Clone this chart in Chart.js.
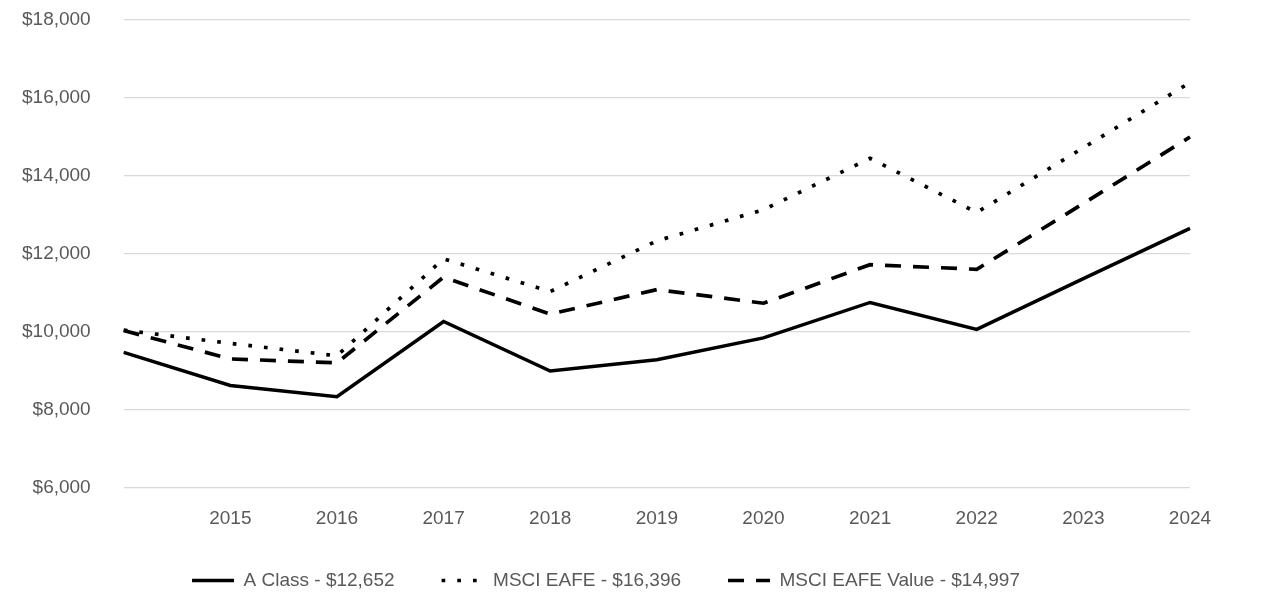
<!DOCTYPE html>
<html>
<head>
<meta charset="utf-8">
<script src="https://cdn.jsdelivr.net/npm/chart.js@4"></script>
<style>
  html, body { margin: 0; padding: 0; background: #fff; }
  #wrap { width: 1286px; height: 614px; }
</style>
</head>
<body>
<div id="wrap"><canvas id="growthChart"></canvas></div>
<script>
const years = ['2014', '2015', '2016', '2017', '2018', '2019', '2020', '2021', '2022', '2023', '2024']
const aClass = [9470, 8620, 8330, 10260, 8990, 9280, 9840, 10750, 10060, 11360, 12652]
const msciEafe = [10040, 9700, 9380, 11870, 11030, 12330, 13130, 14450, 13060, 14720, 16396]
const msciEafeValue = [10030, 9300, 9200, 11400, 10450, 11080, 10730, 11720, 11600, 13290, 14997]
const seriesLabels = ['A Class - $12,652', 'MSCI EAFE - $16,396', 'MSCI EAFE Value - $14,997']

const font = { family: "'Liberation Sans', Arial, sans-serif", size: 19 }

// legend padding is also the gap between items, so trim the legend height back down
const legendHeight = {
  id: 'legendHeight',
  beforeInit(chart) {
    const fit = chart.legend.fit
    chart.legend.fit = function () {
      fit.bind(chart.legend)()
      this.height = 78
    }
  }
}

new Chart(document.getElementById('growthChart'), {
  type: 'line',
  data: {
    labels: years,
    datasets: [
      {
        label: seriesLabels[0],
        data: aClass,
        borderColor: '#000',
        backgroundColor: '#000',
        borderWidth: 3.5,
        pointRadius: 0,
        tension: 0
      },
      {
        label: seriesLabels[1],
        data: msciEafe,
        borderColor: '#000',
        backgroundColor: '#000',
        borderWidth: 3.7,
        borderDash: [3.7, 12],
        pointRadius: 0,
        tension: 0
      },
      {
        label: seriesLabels[2],
        data: msciEafeValue,
        borderColor: '#000',
        backgroundColor: '#000',
        borderWidth: 3.7,
        borderDash: [16, 12],
        pointRadius: 0,
        tension: 0
      }
    ]
  },
  options: {
    responsive: true,
    maintainAspectRatio: false,
    animation: false,
    layout: { padding: { left: 22, right: 96, top: 20, bottom: 12 } },
    plugins: {
      tooltip: { enabled: false },
      legend: {
        position: 'bottom',
        labels: {
          usePointStyle: true,
          pointStyle: 'line',
          pointStyleWidth: 42,
          boxWidth: 42,
          padding: 47,
          color: '#595959',
          font: font,
          generateLabels: (chart) => {
            const items = Chart.defaults.plugins.legend.labels.generateLabels(chart)
            items.forEach((item, i) => {
              const ds = chart.data.datasets[i]
              item.lineDash = ds.borderDash || []
              item.lineWidth = ds.borderWidth
            })
            return items
          }
        }
      }
    },
    scales: {
      x: {
        offset: false,
        grid: { display: false, drawTicks: false },
        border: { display: false },
        ticks: {
          color: '#595959',
          font: font,
          padding: 20,
          maxRotation: 0,
          autoSkip: false,
          callback: (value, index) => index === 0 ? '' : years[index]
        },
        afterFit: (scale) => { scale.height = 36.5 }
      },
      y: {
        min: 6000,
        max: 18000,
        grid: { color: '#d9d9d9', lineWidth: 1.3, drawTicks: true, tickLength: 33, tickColor: 'rgba(0,0,0,0)' },
        border: { display: false },
        ticks: {
          stepSize: 2000,
          color: '#595959',
          font: font,
          padding: 0,
          callback: (value) => '$' + value.toLocaleString('en-US')
        }
      }
    }
  },
  plugins: [legendHeight]
})
</script>
</body>
</html>
